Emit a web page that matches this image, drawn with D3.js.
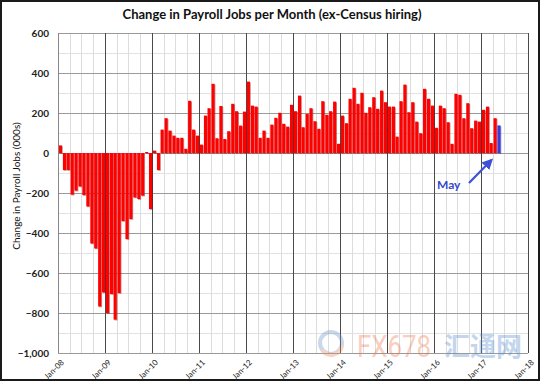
<!DOCTYPE html>
<html>
<head>
<meta charset="utf-8">
<script src="https://cdn.jsdelivr.net/npm/d3@7"></script>
<style>
  html, body { margin: 0; padding: 0; background: #fff; }
  svg { display: block; }
</style>
</head>
<body>
<svg id="chart" width="540" height="381"></svg>
<script>
// ---- DATA ----
const chartTitle = "Change in Payroll Jobs per Month (ex-Census hiring)";
const yAxisTitle = "Change in Payroll Jobs (000s)";
const firstMonth = new Date(2008, 0, 1);   // Jan-08
const jobs2008 = [38, -85, -85, -208, -188, -167, -210, -267, -452, -477, -767, -697];
const jobs2009 = [-800, -705, -833, -700, -340, -430, -330, -222, -230, -213, 5, -280];
const jobs2010 = [12, -85, 117, 174, 112, 87, 76, 76, 21, 261, 117, 87];
const jobs2011 = [42, 187, 224, 346, 74, 235, 70, 109, 246, 209, 137, 207];
const jobs2012 = [357, 237, 232, 76, 112, 76, 142, 176, 201, 146, 132, 241];
const jobs2013 = [209, 287, 129, 196, 224, 159, 121, 259, 191, 209, 257, 46];
const jobs2014 = [187, 149, 271, 326, 246, 301, 201, 229, 279, 221, 312, 254];
const jobs2015 = [232, 232, 82, 259, 342, 204, 254, 157, 99, 321, 271, 237];
const jobs2016 = [126, 237, 224, 154, 46, 296, 291, 174, 249, 124, 162, 157];
const jobs2017 = [216, 232, 50, 174, 138];
const yTickValues = [600, 400, 200, 0, -200, -400, -600, -800, -1000];
const xTickLabels = ["Jan-08","Jan-09","Jan-10","Jan-11","Jan-12","Jan-13","Jan-14","Jan-15","Jan-16","Jan-17","Jan-18"];
const highlightLabel = "May";
const watermarkLatin = "FX678";
const watermarkCJK = "汇通网";

const jobs = [].concat(jobs2008, jobs2009, jobs2010, jobs2011, jobs2012, jobs2013, jobs2014, jobs2015, jobs2016, jobs2017);
const months = jobs.map((v, i) => d3.timeMonth.offset(firstMonth, i));
const data = months.map((m, i) => ({ month: m, value: jobs[i], last: i === jobs.length - 1 }));
const xTickDates = xTickLabels.map((_, i) => d3.timeYear.offset(firstMonth, i));

// ---- LAYOUT ----
const svg = d3.select("#chart");
const W = 540, H = 381;
const plot = { left: 58, right: 528, top: 33, bottom: 353 };

const x = d3.scaleTime()
  .domain([firstMonth, xTickDates[xTickDates.length - 1]])
  .range([plot.left, plot.right]);
const y = d3.scaleLinear()
  .domain([-1000, 600])
  .range([plot.bottom, plot.top]);

svg.append("rect").attr("x", 0).attr("y", 0).attr("width", W).attr("height", H).attr("fill", "#fff");

// minor horizontal grid (every 100)
const g = svg.append("g");
g.selectAll(".hminor").data(d3.range(-900, 600, 200)).join("line")
  .attr("x1", plot.left).attr("x2", plot.right)
  .attr("y1", d => Math.round(y(d)) + 0.5).attr("y2", d => Math.round(y(d)) + 0.5)
  .attr("stroke", "#e2e2e2").attr("stroke-width", 1);
// minor vertical grid (quarterly)
const quarters = d3.timeMonth.every(3).range(firstMonth, xTickDates[xTickDates.length - 1]);
g.selectAll(".vminor").data(quarters.filter(d => d.getMonth() !== 0)).join("line")
  .attr("x1", d => Math.round(x(d)) + 0.5).attr("x2", d => Math.round(x(d)) + 0.5)
  .attr("y1", plot.top).attr("y2", plot.bottom)
  .attr("stroke", "#dcdcdc").attr("stroke-width", 1);
// major horizontal grid
g.selectAll(".hmajor").data(yTickValues).join("line")
  .attr("x1", plot.left).attr("x2", plot.right)
  .attr("y1", d => Math.round(y(d)) + 0.5).attr("y2", d => Math.round(y(d)) + 0.5)
  .attr("stroke", "#9a9a9a").attr("stroke-width", 1);
// major vertical grid (years)
g.selectAll(".vmajor").data(xTickDates).join("line")
  .attr("x1", d => Math.round(x(d)) + 0.5).attr("x2", d => Math.round(x(d)) + 0.5)
  .attr("y1", plot.top).attr("y2", plot.bottom)
  .attr("stroke", "#4a4a4a").attr("stroke-width", 1);

// watermark
const wm = svg.append("g").attr("opacity", 0.36);
wm.append("circle").attr("cx", 331).attr("cy", 343).attr("r", 11)
  .attr("fill", "none").attr("stroke", "#6f95c8").attr("stroke-width", 4);
wm.append("path").attr("d", "M322,350 A11,11 0 0,0 342,346").attr("fill", "none")
  .attr("stroke", "#ee8a5a").attr("stroke-width", 4);
wm.append("text").attr("x", 357).attr("y", 357).text(watermarkLatin)
  .attr("font-family", "Roboto, 'Liberation Sans', sans-serif").attr("font-size", 32)
  .attr("fill", "#ee7a50").attr("textLength", 74).attr("lengthAdjust", "spacingAndGlyphs");
wm.append("text").attr("x", 444).attr("y", 356).text(watermarkCJK)
  .attr("font-family", "'Noto Sans CJK SC', sans-serif").attr("font-size", 26).attr("font-weight", "bold")
  .attr("fill", "#5a8fd0").attr("textLength", 78).attr("lengthAdjust", "spacingAndGlyphs");

// bars
const monthW = x(d3.timeMonth.offset(firstMonth, 1)) - x(firstMonth);
const barW = monthW * 0.78;
const bars = svg.append("g");
bars.selectAll(".shadow").data(data).join("rect")
  .attr("x", d => x(d.month) + 0.9 + 0.8)
  .attr("y", d => Math.min(y(d.value), y(0)) + 0.8)
  .attr("width", barW)
  .attr("height", d => Math.abs(y(d.value) - y(0)))
  .attr("fill", d => d.last ? "#1a1a80" : "#8a0000").attr("opacity", 0.45);
bars.selectAll(".bar").data(data).join("rect")
  .attr("x", d => x(d.month) + 0.9)
  .attr("y", d => Math.min(y(d.value), y(0)))
  .attr("width", barW)
  .attr("height", d => Math.abs(y(d.value) - y(0)))
  .attr("fill", d => d.last ? "#3a3ae0" : "#ff0000");

// axes labels
const yAxis = d3.axisLeft(y).tickValues(yTickValues).tickSize(0).tickPadding(0);
const ya = svg.append("g").attr("transform", `translate(${plot.left - 9},0)`).call(yAxis);
ya.select(".domain").remove();
ya.selectAll("text").attr("font-family", "Lato, 'Open Sans', sans-serif").attr("font-size", 10)
  .attr("font-weight", "bold").attr("fill", "#222");

const xAxis = d3.axisBottom(x).tickValues(xTickDates).tickFormat((d, i) => xTickLabels[i]).tickSize(0);
const xa = svg.append("g").attr("transform", `translate(0,${plot.bottom})`).call(xAxis);
xa.select(".domain").remove();
xa.selectAll("text")
  .attr("font-family", "Lato, 'Open Sans', sans-serif").attr("font-size", 8).attr("fill", "#222")
  .attr("text-anchor", "end").attr("dy", null).attr("y", 0)
  .attr("transform", "translate(6,10) rotate(-45)");

// left axis line
svg.append("line").attr("x1", plot.left + 0.5).attr("x2", plot.left + 0.5)
  .attr("y1", plot.top).attr("y2", plot.bottom).attr("stroke", "#888");

// title
svg.append("text").attr("x", 272).attr("y", 19).attr("text-anchor", "middle")
  .attr("font-family", "Lato, 'Open Sans', sans-serif").attr("font-weight", "bold").attr("font-size", 13)
  .attr("fill", "#111").text(chartTitle);

// y axis title
svg.append("text").attr("transform", "translate(20,186) rotate(-90)").attr("text-anchor", "middle")
  .attr("font-family", "Lato, 'Open Sans', sans-serif").attr("font-size", 10).attr("fill", "#111")
  .text(yAxisTitle);

// annotation
const lastD = data[data.length - 1];
svg.append("defs").append("marker").attr("id", "ah").attr("viewBox", "0 0 10 10")
  .attr("refX", 8).attr("refY", 5).attr("markerWidth", 5).attr("markerHeight", 5).attr("orient", "auto")
  .append("path").attr("d", "M0,0 L10,5 L0,10 z").attr("fill", "#3f4fd8");
svg.append("line").attr("x1", 469).attr("y1", 183).attr("x2", x(lastD.month) - 5).attr("y2", y(0) + 7)
  .attr("stroke", "#3f4fd8").attr("stroke-width", 2.2).attr("marker-end", "url(#ah)");
svg.append("text").attr("x", 437).attr("y", 189)
  .attr("font-family", "Lato, 'Open Sans', sans-serif").attr("font-weight", "bold").attr("font-size", 12)
  .attr("fill", "#3448c8").text(highlightLabel);

// frame
svg.append("rect").attr("x", 1).attr("y", 1).attr("width", W - 2).attr("height", H - 2)
  .attr("fill", "none").attr("stroke", "#1a1a1a").attr("stroke-width", 2);
</script>
</body>
</html>
